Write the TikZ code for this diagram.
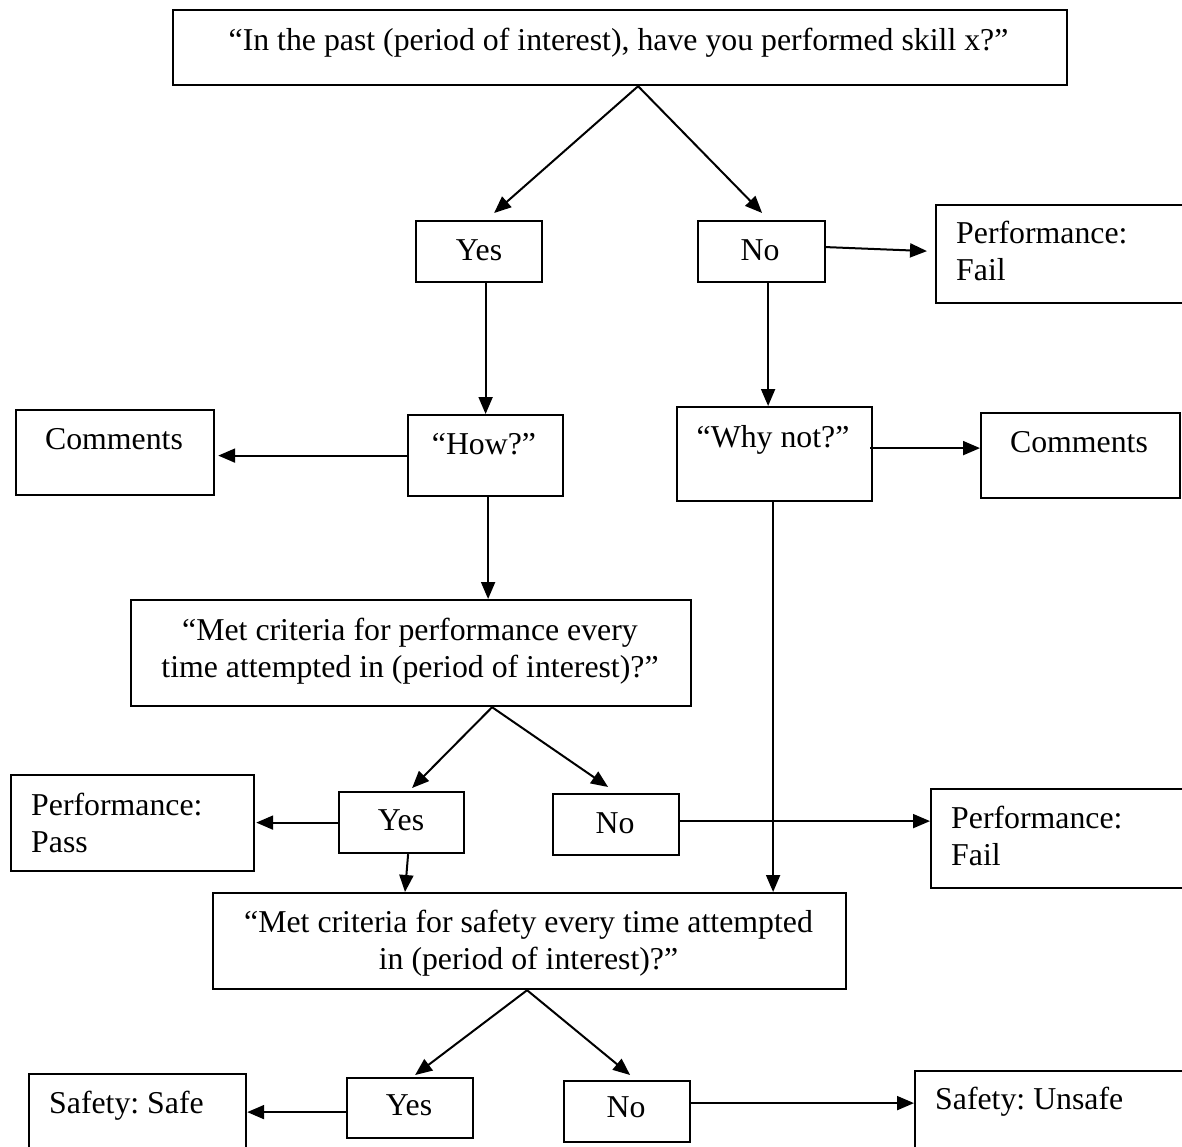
\documentclass[tikz,border=0pt]{standalone}
\usepackage{fontspec}
\setmainfont{Liberation Serif}
\usetikzlibrary{arrows.meta,calc}
\newcommand{\bodyfont}{\fontsize{31.8pt}{37pt}\selectfont\frenchspacing}
\begin{document}
\begin{tikzpicture}[x=1pt,y=-1pt,
  box/.style={draw, line width=2.2pt, rectangle, inner sep=0pt, anchor=north west},
  txt/.style={inner sep=0pt, font=\bodyfont, anchor=base},
  ltxt/.style={inner sep=0pt, font=\bodyfont, anchor=base west, align=left},
  ctxt/.style={inner sep=0pt, font=\bodyfont, anchor=base, align=center},
  arr/.style={-{Triangle[length=17pt,width=14pt]}, line width=2pt}]
\useasboundingbox (0,0) rectangle (1182,1147);
\clip (0,0) rectangle (1182,1147);
% boxes
\node[box, minimum width=894pt, minimum height=75pt] (top) at (172,9) {};
\node[box, minimum width=126pt, minimum height=61pt] (yes1) at (415,220) {};
\node[box, minimum width=127pt, minimum height=61pt] (no1) at (697,220) {};
\node[box, minimum width=270pt, minimum height=98pt] (pf1) at (935,204) {};
\node[box, minimum width=198pt, minimum height=85pt] (com1) at (15,409) {};
\node[box, minimum width=155pt, minimum height=81pt] (how) at (407,414) {};
\node[box, minimum width=195pt, minimum height=94pt] (why) at (676,406) {};
\node[box, minimum width=199pt, minimum height=85pt] (com2) at (980,412) {};
\node[box, minimum width=560pt, minimum height=106pt] (mperf) at (130,599) {};
\node[box, minimum width=243pt, minimum height=96pt] (pass) at (10,774) {};
\node[box, minimum width=125pt, minimum height=61pt] (yes2) at (338,791) {};
\node[box, minimum width=126pt, minimum height=61pt] (no2) at (552,793) {};
\node[box, minimum width=275pt, minimum height=99pt] (pf2) at (930,788) {};
\node[box, minimum width=633pt, minimum height=96pt] (safety) at (212,892) {};
\node[box, minimum width=217pt, minimum height=100pt] (safe) at (28,1073) {};
\node[box, minimum width=126pt, minimum height=60pt] (yes3) at (346,1077) {};
\node[box, minimum width=126pt, minimum height=61pt] (no3) at (563,1080) {};
\node[box, minimum width=290pt, minimum height=100pt] (unsafe) at (914,1070) {};
% texts (multi-line nodes are placed at the baseline of their last line)
\node[txt] (topt) at (618.5,51) {“In the past (period of interest), have you performed skill x?”};
\node[txt] (yes1t) at (479,261) {Yes};
\node[txt] (no1t) at (760,261) {No};
\node[ltxt] (pf1t) at (956,281) {Performance:\\Fail};
\node[txt] (com1t) at (114,449) {Comments};
\node[txt] (howt) at (484,454) {“How?”};
\node[txt] (whyt) at (773,447) {“Why not?”};
\node[txt] (com2t) at (1079,452) {Comments};
\node[ctxt] (mperft) at (410,677) {“Met criteria for performance every\\time attempted in (period of interest)?”};
\node[ltxt] (passt) at (31,852) {Performance:\\Pass};
\node[txt] (yes2t) at (401,830) {Yes};
\node[txt] (no2t) at (615,833) {No};
\node[ltxt] (pf2t) at (951,865) {Performance:\\Fail};
\node[ctxt] (safetyt) at (528.5,969) {“Met criteria for safety every time attempted\\in (period of interest)?”};
\node[ltxt] (safet) at (49,1113) {Safety: Safe};
\node[txt] (yes3t) at (409,1115) {Yes};
\node[txt] (no3t) at (626,1117) {No};
\node[ltxt] (unsafet) at (935,1109) {Safety: Unsafe};
% connector points
\coordinate (f1) at ($(top.south)+(18,0)$);
\coordinate (f2) at ($(mperf.south)+(81,0)$);
\coordinate (f3) at ($(safety.south)+(-2.5,0)$);
\coordinate (c6) at ($(no1.south)+(6.5,0)$);
\coordinate (c7) at ($(why.east)+(-3,-6)$);
\coordinate (c8) at ($(how.south)+(2.5,0)$);
\coordinate (c12) at ($(no2.east)+(0,-3.5)$);
\coordinate (c13) at ($(why.south)+(-1.5,0)$);
\coordinate (c17) at ($(yes3.west)+(0,4)$);
\coordinate (c18) at ($(no3.east)+(0,-8.5)$);
% connectors
\draw[arr] (f1) -- ($(yes1.north)+(15,-7)$);
\draw[arr] (f1) -- ($(no1.north)+(0.5,-7)$);
\draw[arr] ($(no1.east)+(0,-4.5)$) -- ($(pf1.west)+(-8,-3)$);
\draw[arr] (yes1.south -| how.north) -- (how.north);
\draw[arr] (how.west) -- ($(how.west -| com1.east)+(3,0)$);
\draw[arr] (c6) -- (c6 |- why.north);
\draw[arr] (c7) -- (c7 -| com2.west);
\draw[arr] (c8) -- (c8 |- mperf.north);
\draw[arr] (f2) -- ($(yes2.north)+(10.5,-3)$);
\draw[arr] (f2) -- ($(no2.north)+(-8,-6)$);
\draw[arr] (yes2.west) -- ($(yes2.west -| pass.east)+(1,0)$);
\draw[arr] (c12) -- (c12 -| pf2.west);
\draw[arr] (c13) -- (c13 |- safety.north);
\draw[arr] ($(yes2.south)+(6.5,0)$) -- ($(safety.north west)+(193,0)$);
\draw[arr] (f3) -- ($(yes3.north)+(5,-2)$);
\draw[arr] (f3) -- ($(no3.north)+(3,-5)$);
\draw[arr] (c17) -- (c17 -| safe.east);
\draw[arr] (c18) -- (c18 -| unsafe.west);
\end{tikzpicture}
\end{document}
